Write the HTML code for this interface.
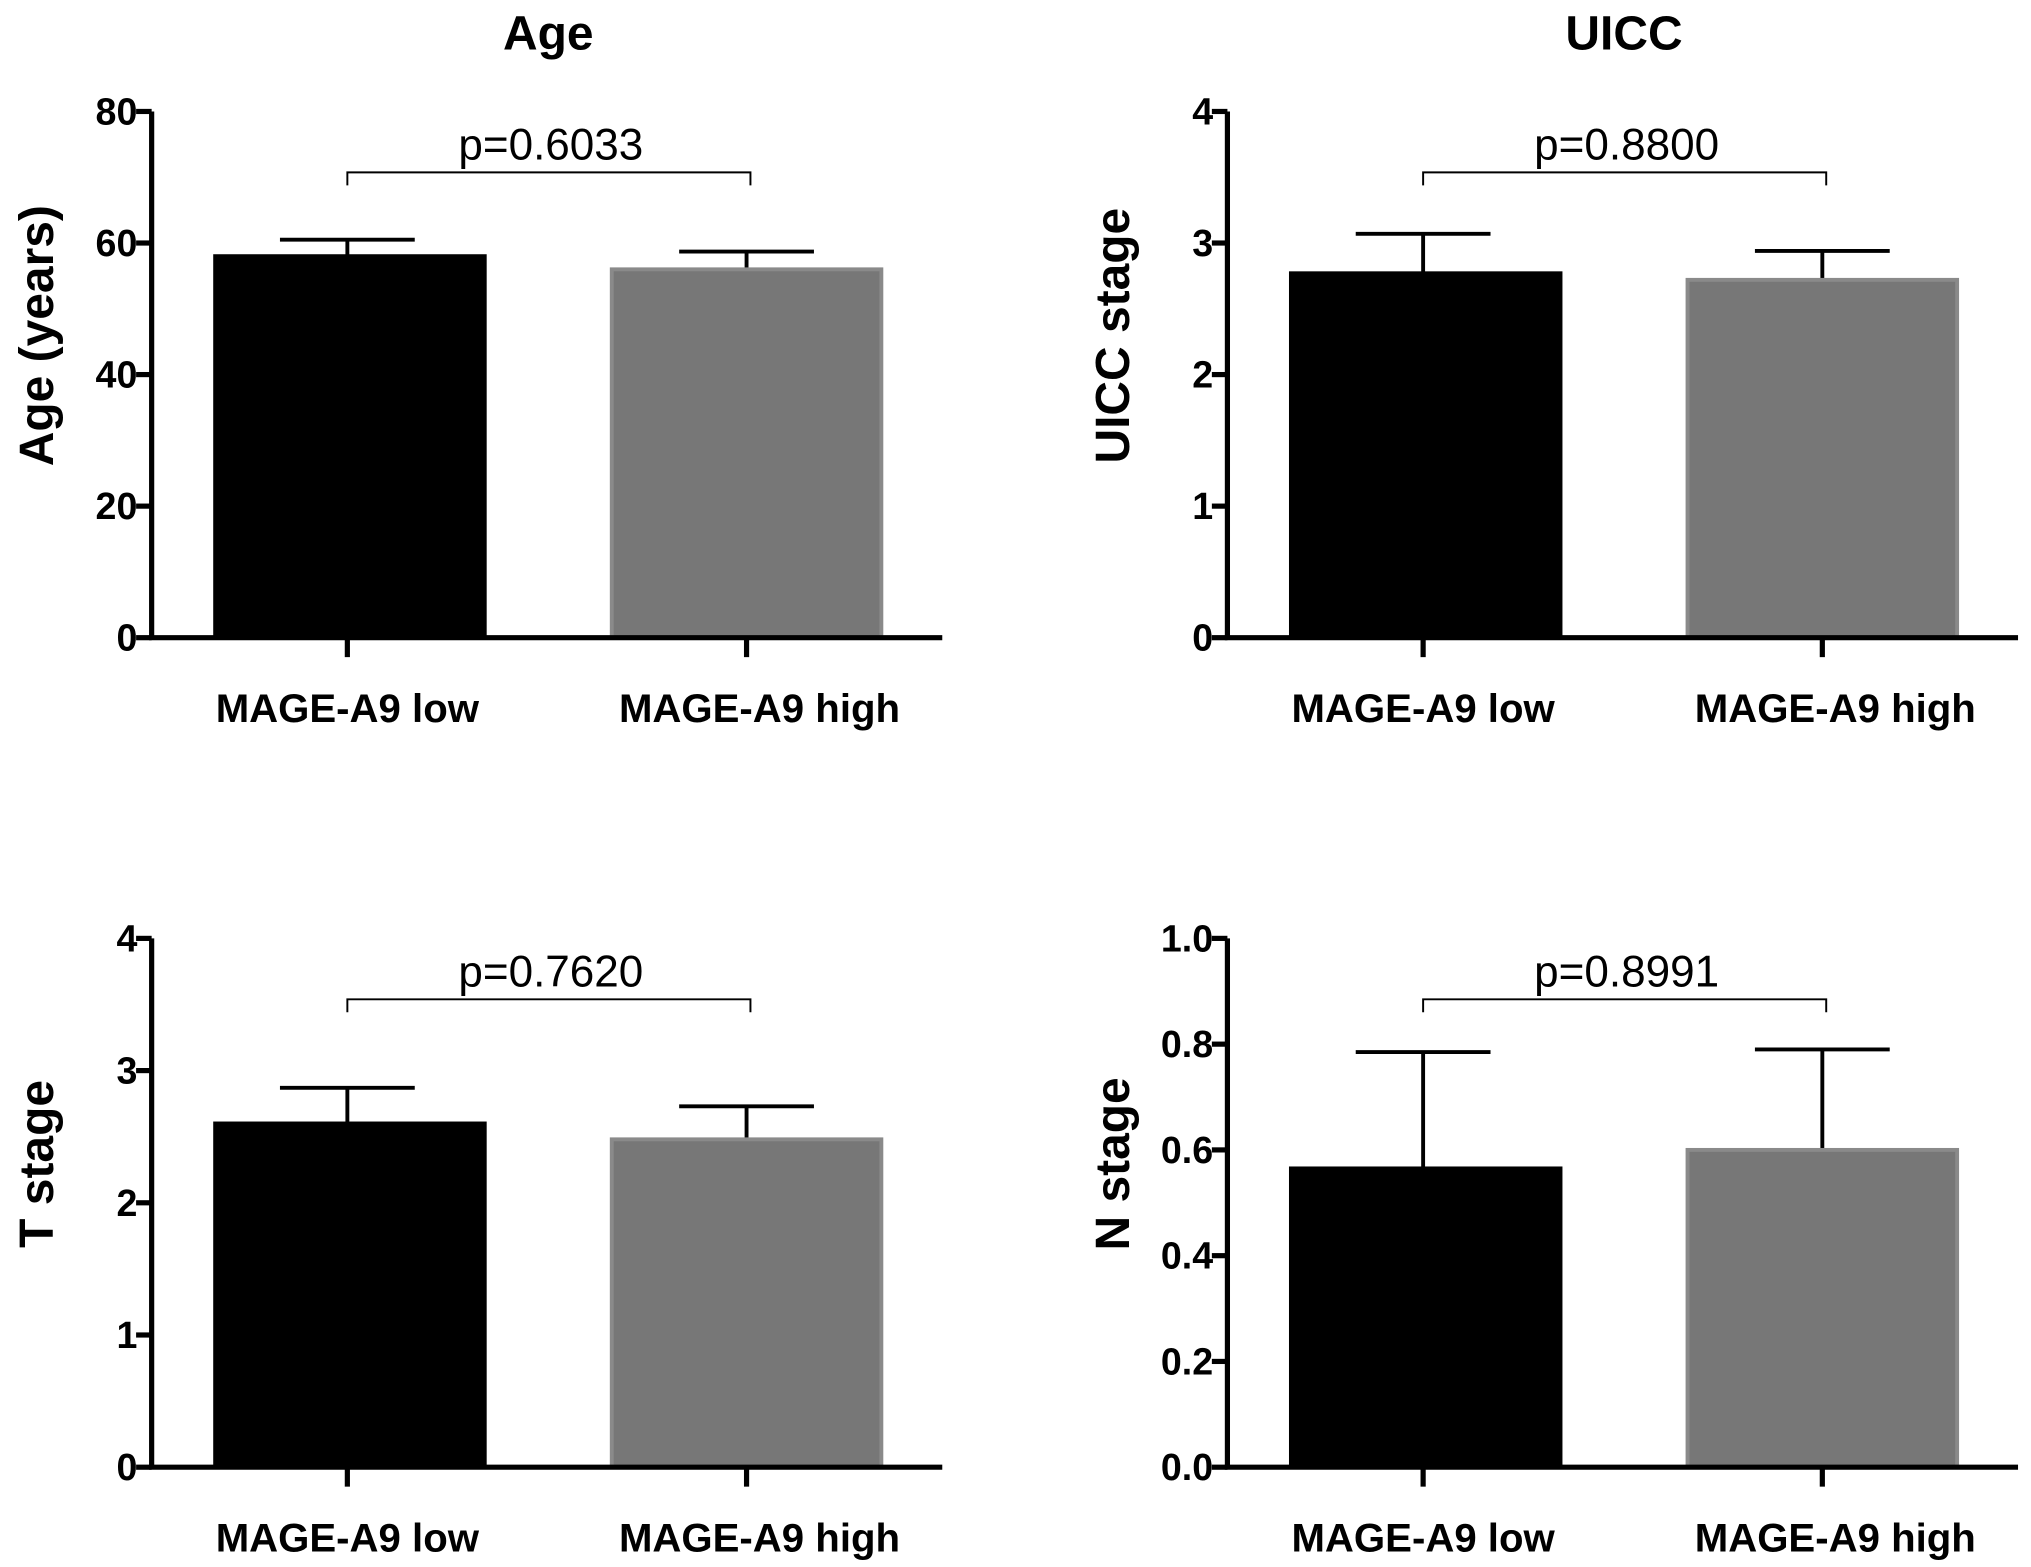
<!DOCTYPE html>
<html><head><meta charset="utf-8"><style>
html,body{margin:0;padding:0;background:#fff;}
svg{display:block;}
text{font-family:"Liberation Sans",Arial,sans-serif;}
</style></head><body>
<svg id="chart" width="2031" height="1567" viewBox="0 0 1567 1209" preserveAspectRatio="none" xmlns="http://www.w3.org/2000/svg"></svg>
<script>
const categories = ["MAGE-A9 low", "MAGE-A9 high"];
const ageMeans = [58, 56];
const ageErrTop = [60.5, 58.7];
const uiccMeans = [2.77, 2.72];
const uiccErrTop = [3.07, 2.94];
const tMeans = [2.6, 2.48];
const tErrTop = [2.87, 2.73];
const nMeans = [0.565, 0.60];
const nErrTop = [0.785, 0.79];
const ageTicks = ["0","20","40","60","80"];
const stageTicks = ["0","1","2","3","4"];
const nTicks = ["0.0","0.2","0.4","0.6","0.8","1.0"];
const titles = ["Age", "UICC", "", ""];
const yLabels = ["Age (years)", "UICC stage", "T stage", "N stage"];
const pValues = ["p=0.6033", "p=0.8800", "p=0.7620", "p=0.8991"];

const svg = document.getElementById('chart');
const NS = 'http://www.w3.org/2000/svg';
function mk(tag, attrs, txt){
  const e = document.createElementNS(NS, tag);
  for (const k in attrs) e.setAttribute(k, attrs[k]);
  if (txt !== undefined) e.textContent = txt;
  svg.appendChild(e);
  return e;
}

function panel(idx, ax, top, bottom, ymax, ticks, means, errs){
  const right = ax + 610;
  const y = v => bottom - (v / ymax) * (bottom - top);
  const centers = [ax + 151, ax + 459];
  const bw = 208;
  if (titles[idx]) {
    const t = mk('text', {x: ax + 306, y: 38, 'font-size': 37, 'font-weight': 'bold', 'text-anchor': 'middle'}, titles[idx]);
    
    
  }
  const yl = mk('text', {x: 0, y: 0, 'font-size': 37, 'font-weight': 'bold', 'text-anchor': 'middle', transform: `translate(${ax - 76},${(top + bottom) / 2 - 30}) rotate(-90)`}, yLabels[idx]);
  
  
  means.forEach((m, i) => {
    const cx = centers[i];
    const e = mk('line', {x1: cx, x2: cx, y1: y(m), y2: y(errs[i]), stroke: '#000', 'stroke-width': 3});
    
    
    const c = mk('line', {x1: cx - 52, x2: cx + 52, y1: y(errs[i]), y2: y(errs[i]), stroke: '#000', 'stroke-width': 3});
    
    
    const fill = i === 0 ? '#000' : '#777';
    const stroke = i === 0 ? '#000' : '#8a8a8a';
    const b = mk('rect', {x: cx - bw / 2 + (i === 0 ? 2 : 0), y: y(m), width: bw, height: bottom - y(m), fill: fill, stroke: stroke, 'stroke-width': 3});
    
    
    const tk = mk('line', {x1: cx, x2: cx, y1: bottom, y2: bottom + 15, stroke: '#000', 'stroke-width': 4});
    
    
    const lb = mk('text', {x: cx + (i === 0 ? 0 : 10), y: bottom + 65, 'font-size': 31, 'font-weight': 'bold', 'text-anchor': 'middle'}, categories[i]);
    
    
  });
  const ya = mk('path', {d: `M${ax},${top}V${bottom}`, stroke: '#000', 'stroke-width': 4, fill: 'none'});
  
  
  const xa = mk('path', {d: `M${ax - 2},${bottom}H${right}`, stroke: '#000', 'stroke-width': 4, fill: 'none'});
  
  
  ticks.forEach((t, i) => {
    const ty = bottom - i * (bottom - top) / (ticks.length - 1);
    const l = mk('line', {x1: ax - 12, x2: ax, y1: ty, y2: ty, stroke: '#000', 'stroke-width': 4});
    
    
    const tx = mk('text', {x: ax - 11, y: ty + 10, 'font-size': 29, 'font-weight': 'bold', 'text-anchor': 'end'}, t);
    
    
  });
  const by = top + 47;
  const br = mk('path', {d: `M${centers[0]},${by + 10}V${by}H${centers[1] + 3}V${by + 10}`, stroke: '#000', 'stroke-width': 1.5, fill: 'none'});
  
  
  const pt = mk('text', {x: ax + 308, y: by - 10, 'font-size': 34, 'text-anchor': 'middle'}, pValues[idx]);
  
  
}

panel(0, 117, 86, 492, 80, ageTicks, ageMeans, ageErrTop);
panel(1, 947, 86, 492, 4, stageTicks, uiccMeans, uiccErrTop);
panel(2, 117, 724, 1132, 4, stageTicks, tMeans, tErrTop);
panel(3, 947, 724, 1132, 1.0, nTicks, nMeans, nErrTop);
</script>
</body></html>
